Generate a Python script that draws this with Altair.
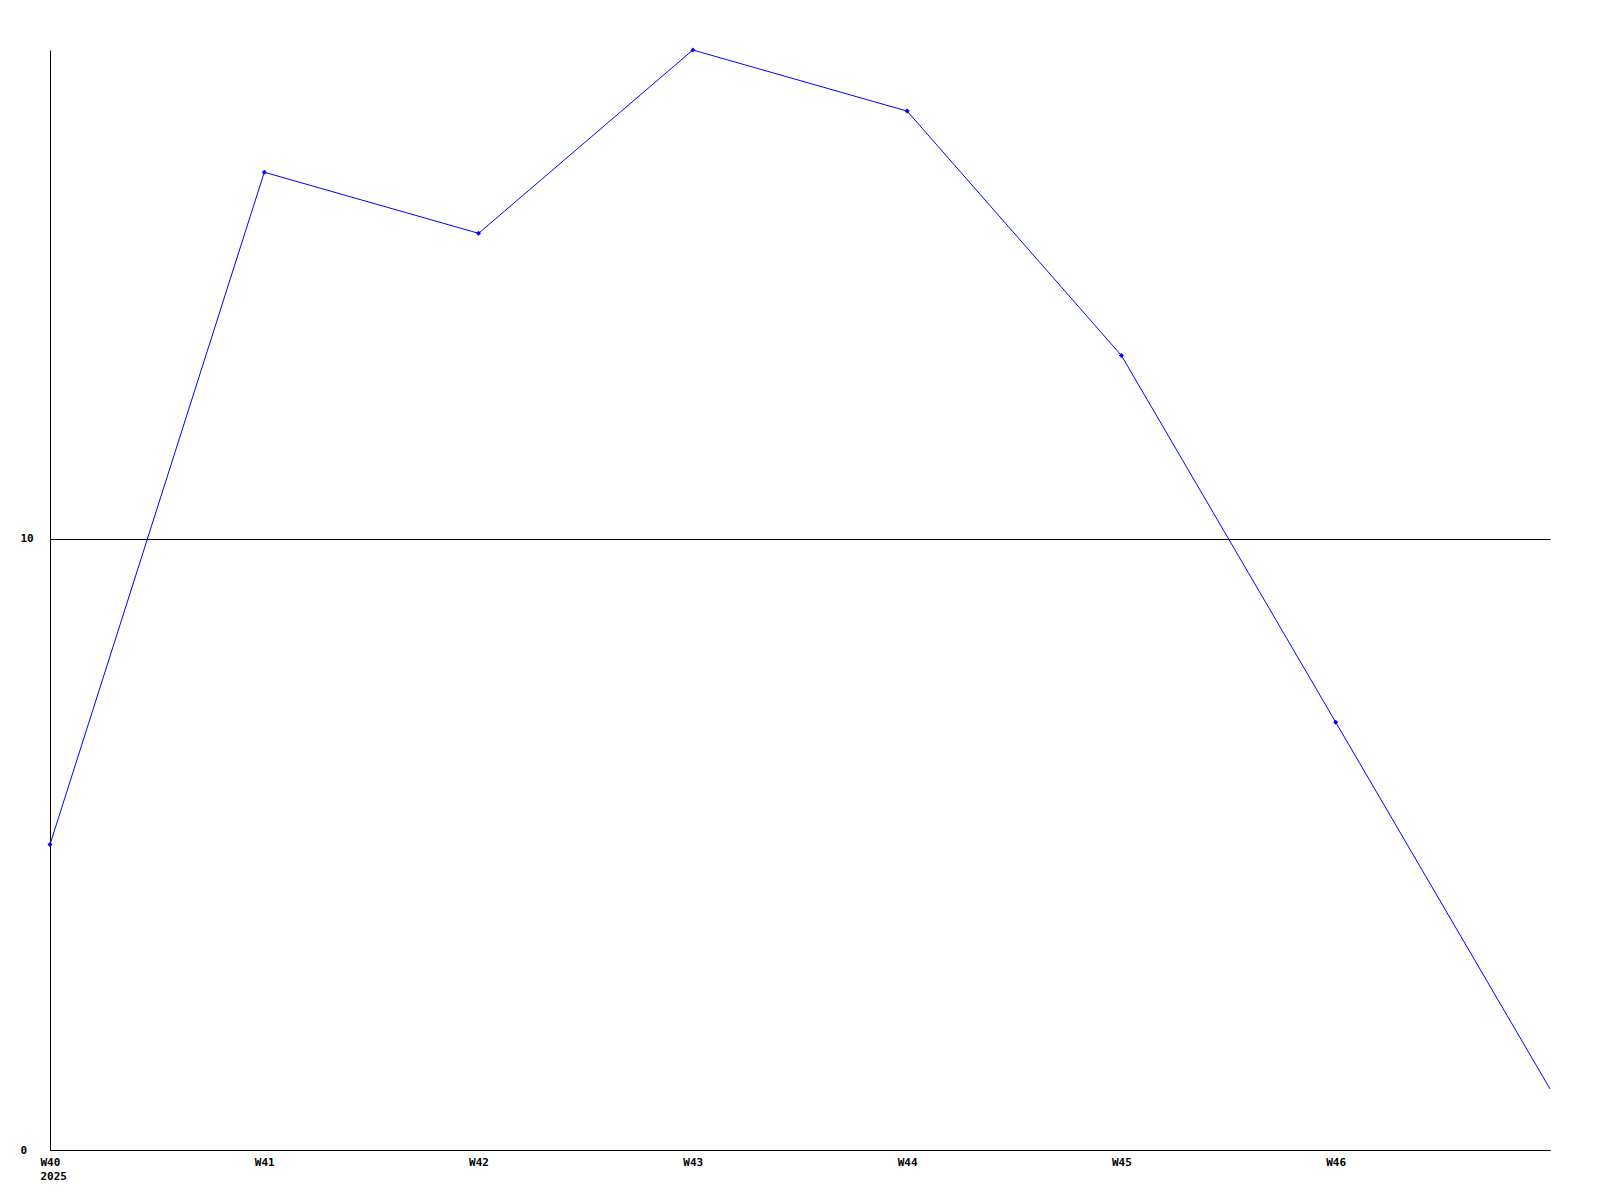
import altair as alt
import pandas as pd

weeks = ["W40", "W41", "W42", "W43", "W44", "W45", "W46", "W47"]
values = [5, 16, 15, 18, 17, 13, 7, 1]
year_label = "2025"

df = pd.DataFrame({"idx": list(range(len(weeks))), "week": weeks, "value": values})

FONT = "DejaVu Sans Mono"

x_enc = alt.X(
    "idx:Q",
    scale=alt.Scale(domain=[0, 7], nice=False, zero=False),
    axis=alt.Axis(
        values=list(range(7)),
        labelExpr="datum.value == 0 ? ['W40', '" + year_label + "'] : 'W' + (40 + datum.value)",
        grid=False,
        ticks=False,
        labelAlign="left",
        labelOffset=-10,
        labelBaseline="top",
        labelPadding=6,
        labelFont=FONT,
        labelFontWeight="bold",
        labelFontSize=11,
        labelColor="black",
        labelLineHeight=14,
        labelFlush=False,
        domainColor="black",
        title=None,
    ),
)
y_enc = alt.Y(
    "value:Q",
    scale=alt.Scale(domain=[0, 18], nice=False),
    axis=alt.Axis(
        values=[0, 10],
        format="d",
        grid=True,
        gridColor="black",
        gridOpacity=1,
        gridWidth=1,
        ticks=False,
        labelAlign="left",
        labelPadding=30,
        labelFont=FONT,
        labelFontWeight="bold",
        labelFontSize=11,
        labelColor="black",
        labelFlush=False,
        domainColor="black",
        title=None,
    ),
)

line = alt.Chart(df).mark_line(color="#0000ff", strokeWidth=1).encode(x=x_enc, y=y_enc)
pts = (
    alt.Chart(df)
    .transform_filter("datum.idx < 7")
    .mark_point(shape="diamond", filled=True, size=25, color="#0000ff", opacity=1)
    .encode(x="idx:Q", y="value:Q")
)

chart = (
    alt.layer(line, pts)
    .properties(
        width=1500,
        height=1100,
        autosize=alt.AutoSizeParams(type="none"),
        padding={"left": 42, "top": 42, "right": 20, "bottom": 60},
        background="white",
    )
    .configure_view(strokeWidth=0, stroke="transparent")
)

chart.save("out.html", embed_options={"renderer": "svg", "actions": False})
